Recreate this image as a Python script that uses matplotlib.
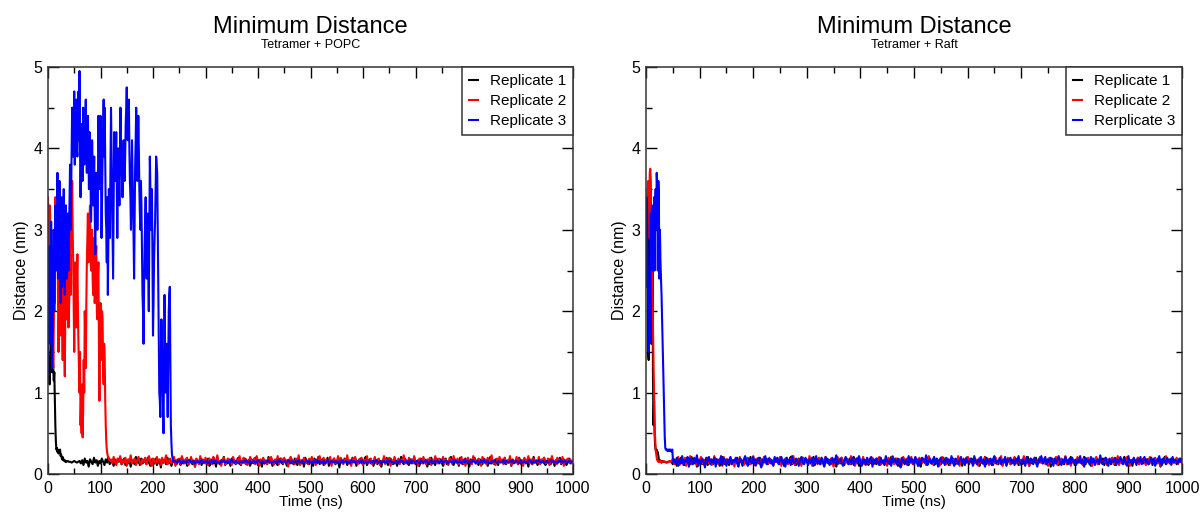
import numpy as np
import matplotlib
matplotlib.use("Agg")
import matplotlib.pyplot as plt
from matplotlib.ticker import MultipleLocator

plt.rcParams['font.family'] = ['Liberation Sans', 'DejaVu Sans']

# ---- data: minimum distance (nm) vs time (ns) ----
# "head" = start of each run at 1 ns steps (nm)
# "tail" = rest of the run up to 1000 ns, ~2.5 ns apart, in hundredths of nm

# Tetramer + POPC
popc_r1_head = [1.55, 1.2, 1.45, 1.1, 1.3, 1.6, 1.9, 1.5, 1.25, 1.4, 1.3, 1.15, 1.25, 0.9, 0.6, 0.4,
                0.3, 0.32, 0.27, 0.3, 0.25, 0.28, 0.26, 0.3, 0.22, 0.24, 0.2, 0.18, 0.21, 0.17,
                0.18, 0.16, 0.17, 0.15, 0.16]
popc_r1_tail = [15, 16, 15, 15, 14, 15, 16, 15, 14, 15, 16,
                13, 17, 11, 19, 14, 16, 9, 18, 15, 12, 20, 14, 17, 10, 16, 13, 19, 15, 11, 18, 14, 21, 12, 16, 15,
                10, 18, 13, 17, 15, 20, 12, 14, 19, 11, 16, 13, 18, 9, 17, 15, 12, 21, 14, 16, 11, 19, 13, 15, 17,
                12, 20, 14, 10, 18, 16, 13, 19, 11, 15, 17, 8, 18, 14, 16, 12, 20, 13, 17, 10, 15, 19, 14, 12, 18,
                16, 11, 21, 13, 15, 18, 10, 17, 14, 19, 12, 16, 9, 18, 15, 13, 20, 11, 17, 14, 16, 12, 19, 10, 15,
                18, 13, 16, 9, 20, 14, 12, 17, 15, 21, 11, 16, 13, 18, 10, 19, 14, 15, 12, 17, 20, 13, 11, 16, 14,
                19, 12, 15, 17, 10, 18, 14, 13, 20, 16, 11, 17, 15, 9, 19, 13, 16, 12, 21, 14, 18, 10, 15, 17, 13,
                11, 16, 19, 14, 12, 18, 15, 10, 17, 13, 20, 16, 12, 19, 14, 11, 18, 15, 13, 17, 9, 20, 14, 16, 12,
                17, 14, 10, 19, 15, 13, 21, 12, 16, 18, 11, 15, 14, 20, 10, 17, 13, 16, 19, 12, 15, 18, 8, 17, 14,
                13, 19, 16, 11, 17, 14, 12, 20, 15, 18, 10, 16, 13, 19, 14, 12, 17, 21, 11, 15, 18, 13, 16, 10, 19,
                15, 12, 18, 14, 9, 17, 16, 13, 20, 11, 15, 19, 14, 12, 18, 16, 10, 17, 13, 21, 15, 12, 19, 14, 16,
                11, 18, 13, 16, 20, 12, 15, 17, 10, 19, 14, 13, 18, 16, 9, 17, 12, 20, 15, 14, 11, 19, 16, 13, 18,
                14, 10, 17, 19, 12, 16, 15, 21, 13, 11, 18, 14, 17, 10, 20, 15, 12, 16, 19, 13, 15, 9, 18, 14, 17,
                20, 13, 15, 11, 18, 16, 12, 19, 14, 17, 10, 15, 21, 13, 16, 12, 18, 14, 11, 19, 15, 17, 13, 20, 12,
                16, 14, 19, 10, 17, 13, 15, 18, 12, 20, 14, 11, 16, 19, 13, 17, 9, 18, 15, 12, 21, 14, 16, 11, 18,
                13, 17, 15, 20, 11, 16, 14, 18, 12, 19, 15, 10, 17, 13, 16, 20, 12, 15, 18, 14, 11, 17, 19, 13, 16,
                15]
popc_r2_head = [3.4, 2.9, 2.7, 3.3, 3.2, 2.4, 2.0, 2.6, 1.6, 1.9, 1.3, 1.8, 2.5, 2.1, 3.4, 2.6,
                2.9, 3.4, 3.3, 2.2, 1.5, 2.0, 2.4, 1.7, 2.0, 2.9, 2.5, 1.8, 1.4, 2.2, 2.3, 1.6,
                1.2, 2.0, 2.6, 2.1, 1.9, 2.5, 2.4, 1.8, 2.0, 2.3, 2.7, 2.2, 3.3, 2.8, 3.6, 3.0,
                2.6, 2.1, 1.5, 2.2, 2.6, 1.9, 1.8, 2.4, 2.7, 2.0, 1.6, 1.3, 1.0, 1.5, 0.6, 0.9,
                0.5, 1.1, 0.45, 0.8, 1.4, 1.0, 2.0, 1.7, 1.3, 2.1, 2.6, 2.9, 3.2, 2.6, 2.8, 3.1,
                3.3, 2.7, 2.5, 2.9, 3.0, 2.4, 2.2, 2.7, 2.9, 2.1, 2.3, 2.7, 2.8, 2.0, 1.9, 2.4,
                2.6, 1.6, 0.9, 1.8, 2.1, 1.4, 1.5, 2.0, 1.9, 1.3, 1.1, 1.6, 1.4, 0.9, 0.6, 0.4,
                0.3, 0.25, 0.22, 0.2, 0.19, 0.17, 0.17, 0.16]
popc_r2_tail = [18, 13, 21, 15, 11, 19, 16, 22, 12, 17, 14, 20, 10, 18, 15, 23, 13, 16, 19, 11, 17, 21, 14, 12, 18,
                15, 20, 12, 17, 22, 14, 10, 19, 16, 13, 21, 15, 18, 11, 20, 14, 17, 23, 12, 16, 19, 13, 15, 21, 10,
                17, 14, 19, 12, 22, 16, 13, 18, 20, 11, 15, 21, 14, 17, 9, 19, 16, 12, 22, 15, 18, 13, 20, 14, 11,
                19, 15, 12, 21, 17, 14, 23, 13, 16, 10, 18, 20, 12, 15, 19, 14, 17, 11, 21, 16, 13, 18, 15, 22, 12,
                16, 20, 13, 18, 11, 15, 21, 17, 14, 19, 12, 22, 16, 10, 18, 15, 20, 13, 17, 12, 19, 14, 21, 16, 11,
                18, 14, 22, 12, 16, 19, 13, 20, 15, 17, 9, 18, 21, 14, 16, 12, 19, 15, 23, 11, 17, 14, 20, 13, 16,
                12, 19, 15, 21, 14, 17, 11, 18, 16, 22, 13, 15, 20, 12, 18, 14, 16, 21, 10, 17, 19, 13, 15, 22, 14,
                20, 16, 12, 18, 15, 23, 13, 17, 10, 19, 14, 21, 16, 12, 18, 15, 20, 11, 17, 14, 22, 13, 16, 19, 12,
                15, 21, 13, 17, 19, 11, 16, 14, 22, 12, 18, 15, 20, 10, 17, 13, 21, 16, 14, 19, 12, 18, 15, 23, 13,
                17, 12, 20, 15, 18, 13, 22, 14, 16, 10, 19, 17, 13, 21, 15, 12, 18, 16, 20, 11, 17, 14, 22, 15, 13,
                19, 14, 16, 21, 12, 18, 15, 11, 20, 17, 13, 22, 16, 14, 19, 12, 15, 21, 13, 18, 10, 17, 20, 14, 16,
                12, 22, 15, 17, 13, 19, 16, 10, 21, 14, 18, 12, 20, 15, 17, 23, 13, 16, 11, 19, 14, 21, 15, 18, 12,
                20, 13, 17, 15, 22, 11, 18, 16, 14, 21, 12, 19, 15, 17, 10, 20, 14, 16, 22, 13, 18, 12, 19, 15, 17,
                14, 21, 12, 18, 16, 20, 13, 15, 19, 11, 17, 22, 14, 16, 12, 20, 15, 18, 13, 21, 10, 17, 16, 19, 14,
                18, 13, 16]
popc_r3_head = [1.2, 2.1, 2.8, 2.3, 1.6, 2.5, 3.1, 2.2, 1.3, 1.9, 2.4, 3.0, 2.0, 2.6, 3.3, 2.8,
                2.5, 3.2, 3.7, 2.4, 2.9, 3.1, 3.6, 2.7, 2.1, 2.9, 3.4, 2.3, 2.6, 3.0, 3.5, 2.8,
                2.2, 2.7, 3.3, 2.9, 2.4, 2.8, 3.2, 2.5, 2.9, 3.4, 3.8, 3.0, 3.4, 3.9, 4.5, 4.2,
                3.9, 4.3, 4.7, 3.8, 4.2, 4.4, 4.6, 4.0, 3.9, 4.3, 4.7, 4.1, 4.95, 4.0, 3.4, 3.9,
                4.3, 4.1, 3.6, 4.5, 4.4, 3.8, 4.0, 4.4, 4.6, 4.0, 3.7, 4.1, 4.4, 3.9, 3.5, 4.2,
                3.9, 3.6, 3.1, 3.5, 4.1, 3.8, 3.3, 3.6, 3.9, 3.2, 2.7, 3.3, 3.7, 3.6, 3.0, 3.4,
                4.4, 4.0, 3.5, 3.9, 4.4, 3.6, 2.9, 3.4, 3.9, 4.2, 4.6, 3.9, 4.5, 3.8, 3.2, 3.0,
                2.6, 3.4, 2.2, 2.9, 3.5, 3.1, 2.9, 3.8, 4.5, 4.0, 3.5, 3.0, 2.4, 3.3, 4.2, 3.8,
                3.6, 3.9, 4.2, 3.5, 2.9, 3.6, 4.0, 3.7, 3.3, 3.9, 4.5, 4.1, 3.8, 3.6, 3.4, 3.8,
                4.1, 3.9, 3.6, 3.9, 4.3, 4.5, 4.75, 4.3, 4.1, 4.4, 4.6, 4.0, 3.6, 3.4, 3.0, 3.6,
                4.1, 3.7, 3.3, 2.9, 2.4, 3.1, 3.8, 4.1, 4.5, 4.0, 3.6, 3.9, 4.4, 4.0, 3.5, 3.2,
                3.0, 3.6, 3.3, 2.8, 2.2, 2.0, 1.6, 2.3, 2.8, 3.1, 3.4, 2.9, 2.4, 2.8, 3.2, 2.5,
                2.0, 2.9, 3.9, 3.5, 3.0, 3.2, 3.5, 2.6, 1.7, 2.1, 2.6, 2.9, 3.1, 3.5, 3.9, 3.8,
                3.7, 3.0, 2.2, 1.5, 1.0, 0.9, 0.7, 1.3, 1.9, 1.6, 1.2, 0.8, 0.5, 1.4, 2.2, 1.5,
                1.0, 1.3, 1.6, 1.1, 0.7, 1.4, 2.0, 2.2, 2.3, 1.4, 0.6, 0.4, 0.25, 0.2, 0.16, 0.15]
popc_r3_tail = [15, 16, 14, 15, 17, 15, 13, 16, 15, 14, 16, 15, 17, 14, 15, 16, 13, 15, 16, 14, 15, 17, 15, 14, 16,
                15, 13, 16, 15, 14, 17, 15, 16, 14, 15, 13, 16, 15, 17, 14, 15, 16, 14, 15, 18, 15, 14, 16, 15, 13,
                16, 15, 14, 16, 15, 17, 14, 15, 16, 13, 15, 16, 14, 15, 17, 15, 14, 16, 15, 13, 16, 15, 17, 14, 15,
                14, 16, 15, 13, 17, 15, 16, 14, 15, 16, 15, 14, 17, 15, 13, 16, 15, 14, 16, 15, 17, 14, 15, 16, 14,
                15, 17, 14, 16, 15, 13, 16, 15, 14, 17, 15, 16, 14, 15, 16, 13, 15, 17, 15, 14, 16, 15, 14, 16, 15,
                13, 16, 15, 17, 14, 15, 16, 14, 15, 13, 17, 15, 16, 14, 15, 16, 15, 14, 17, 15, 13, 16, 15, 14, 16,
                15, 14, 16, 15, 17, 15, 14, 16, 13, 15, 16, 14, 15, 17, 15, 16, 14, 15, 13, 16, 15, 14, 17, 15, 16,
                14, 15, 16, 13, 15, 17, 14, 16, 15, 14, 16, 15, 13, 17, 15, 14, 16, 15, 16, 14, 15, 17, 13, 15, 16,
                15, 16, 14, 15, 17, 14, 15, 16, 15, 13, 16, 15, 14, 17, 15, 16, 14, 15, 16, 13, 15, 17, 14, 16, 15,
                16, 14, 15, 17, 15, 13, 16, 15, 14, 16, 15, 17, 14, 15, 16, 14, 13, 16, 15, 17, 15, 14, 16, 15, 14,
                15, 17, 13, 16, 15, 14, 16, 15, 17, 14, 15, 16, 15, 13, 17, 15, 14, 16, 15, 14, 16, 17, 15, 13, 16,
                14, 16, 15, 17, 15, 14, 16, 13, 15, 16, 14, 15, 17, 15, 16, 14, 15, 13, 16, 15, 17, 14, 15, 16, 15,
                14, 16, 15, 15, 14]

# Tetramer + Raft
raft_r1_head = [3.4, 3.2, 2.5, 3.3, 1.5, 1.4, 2.2, 3.0, 3.4, 3.5, 2.1, 1.6, 2.8, 1.2, 0.6, 0.9,
                0.5, 0.35, 0.3, 0.28, 0.3, 0.25, 0.27, 0.22, 0.18, 0.16, 0.17, 0.15, 0.16, 0.14]
raft_r1_tail = [16, 15, 15, 14, 15, 15, 16, 15,
                12, 18, 14, 10, 17, 15, 20, 13, 16, 11, 19, 14, 17, 12, 21, 15, 13, 18, 9, 16, 14, 19, 12, 17, 15,
                20, 11, 16, 14, 18, 12, 15, 19, 13, 17, 10, 16, 21, 14, 12, 18, 15, 11, 19, 16, 13, 17, 14, 20, 12,
                15, 18, 10, 17, 13, 19, 16, 12, 21, 14, 15, 11, 18, 16, 13, 20, 9, 17, 14, 15, 19, 12, 16, 18, 13,
                11, 17, 15, 20, 14, 12, 18, 16, 10, 19, 13, 15, 17, 21, 12, 14, 18, 11, 16, 19, 15, 13, 20, 14, 17,
                16, 12, 19, 13, 15, 21, 11, 17, 14, 18, 12, 20, 15, 10, 16, 19, 13, 17, 15, 12, 18, 14, 9, 19, 16,
                13, 20, 15, 11, 18, 16, 14, 19, 12, 17, 21, 13, 15, 18, 10, 16, 14, 20, 12, 17, 15, 11, 19, 13, 18,
                17, 14, 12, 19, 15, 20, 13, 16, 11, 18, 14, 17, 12, 21, 15, 13, 19, 16, 10, 18, 14, 16, 20, 12, 15,
                19, 11, 17, 14, 16, 12, 20, 15, 18, 13, 9, 19, 16, 14, 17, 12, 21, 15, 13, 18, 11, 16, 19, 14, 17,
                12, 16, 20, 13, 18, 15, 11, 17, 14, 19, 16, 12, 15, 20, 13, 17, 10, 18, 15, 14, 21, 12, 16, 19, 13,
                18, 15, 13, 17, 10, 19, 14, 16, 21, 12, 15, 18, 13, 17, 11, 20, 14, 16, 12, 19, 15, 13, 18, 16, 11,
                15, 19, 12, 16, 14, 20, 13, 18, 11, 17, 15, 12, 19, 16, 14, 21, 10, 17, 13, 18, 15, 20, 12, 16, 14,
                20, 13, 17, 15, 12, 18, 16, 9, 19, 14, 17, 13, 20, 11, 16, 18, 14, 12, 19, 15, 17, 13, 21, 14, 16,
                11, 18, 14, 19, 16, 13, 17, 21, 12, 15, 18, 14, 10, 19, 16, 13, 20, 15, 12, 17, 14, 19, 11, 16, 18,
                14, 17, 12, 20, 15, 11, 18, 16, 13, 19, 14, 17, 21, 12, 15, 18, 13, 16, 10, 19, 15, 14, 20, 12, 17,
                16, 13, 19, 15, 18, 12, 14, 20, 11, 17, 16, 13, 19, 15, 9, 18, 14, 21, 12, 16, 17, 13, 19, 15, 14,
                18, 12, 16, 15, 19, 14]
raft_r2_head = [2.7, 3.0, 3.3, 3.5, 3.6, 3.4, 2.9, 3.7, 3.75, 3.6, 2.6, 3.0, 2.2, 1.8, 1.4, 1.0,
                0.6, 0.45, 0.3, 0.25, 0.2, 0.17, 0.16, 0.15, 0.16, 0.15, 0.15, 0.16, 0.15, 0.14]
raft_r2_tail = [15, 16, 15, 15, 14, 15, 16, 15,
                19, 12, 17, 14, 21, 11, 16, 18, 13, 20, 10, 17, 15, 22, 12, 16, 19, 14, 11, 18, 15, 21, 13, 17, 10,
                16, 20, 13, 18, 11, 15, 22, 14, 17, 12, 19, 16, 10, 21, 14, 18, 13, 15, 20, 12, 17, 9, 19, 15, 13,
                21, 14, 16, 11, 18, 13, 20, 15, 12, 17, 22, 14, 10, 19, 16, 13, 18, 11, 21, 15, 17, 12, 20, 14, 16,
                11, 19, 15, 17, 13, 21, 10, 18, 14, 16, 20, 12, 15, 19, 13, 22, 11, 17, 14, 18, 16, 10, 20, 13, 15,
                18, 13, 22, 15, 10, 17, 14, 19, 12, 20, 16, 13, 18, 11, 21, 15, 17, 12, 19, 14, 9, 18, 16, 21, 13,
                15, 20, 11, 17, 14, 19, 16, 12, 22, 13, 18, 10, 16, 20, 14, 17, 12, 21, 15, 11, 19, 13, 17, 15, 20,
                12, 17, 19, 14, 21, 11, 16, 13, 18, 15, 10, 20, 14, 17, 22, 12, 16, 19, 13, 15, 18, 11, 21, 14, 16,
                19, 13, 15, 21, 12, 18, 14, 17, 10, 20, 16, 13, 19, 15, 11, 18, 22, 14, 16, 12, 20, 15, 17, 13, 10,
                17, 21, 14, 16, 12, 19, 15, 11, 20, 13, 18, 16, 14, 22, 10, 17, 15, 19, 12, 16, 21, 13, 18, 14, 15,
                13, 18, 16, 10, 20, 14, 17, 12, 21, 15, 19, 11, 16, 18, 13, 15, 20, 12, 17, 14, 22, 10, 16, 19, 13,
                20, 15, 12, 18, 14, 21, 13, 16, 19, 11, 17, 15, 22, 12, 18, 14, 10, 19, 16, 13, 20, 15, 12, 17, 21,
                14, 16, 19, 12, 17, 10, 20, 15, 13, 18, 16, 21, 11, 17, 14, 19, 13, 16, 22, 12, 15, 18, 10, 20, 14,
                16, 12, 21, 14, 18, 15, 11, 19, 13, 17, 20, 14, 16, 10, 18, 15, 21, 12, 17, 19, 13, 16, 14, 20, 11,
                18, 14, 16, 20, 12, 17, 15, 22, 11, 19, 13, 16, 18, 12, 21, 14, 10, 17, 15, 19, 16, 13, 20, 12, 17,
                13, 19, 15, 11, 18, 16, 21, 14, 17, 12, 20, 15, 13, 19, 10, 16, 18, 14, 22, 13, 17, 15, 11, 19, 16,
                14, 20, 12, 17, 15, 18]
raft_r3_head = [2.3, 3.4, 3.3, 2.7, 2.0, 1.5, 2.1, 1.6, 2.5, 3.2, 2.8, 3.3, 2.5, 3.1, 2.6, 3.4,
                2.5, 3.2, 3.5, 3.0, 3.7, 3.5, 2.5, 3.6, 3.4, 2.4, 3.0, 2.6, 2.4, 2.2, 1.9, 1.6,
                1.3, 1.0, 0.7, 0.45, 0.32, 0.3, 0.3, 0.29, 0.3, 0.28, 0.3, 0.29, 0.3, 0.28,
                0.3, 0.29, 0.27, 0.3, 0.2, 0.15, 0.14, 0.16, 0.15]
raft_r3_tail = [14, 20, 10, 18, 13, 22, 11, 17, 15, 21, 9, 19, 16, 12, 20, 14, 23, 10, 17, 13, 19, 15, 8, 18, 16,
                21, 12, 17, 14, 20, 9, 18, 15, 13, 22, 11, 19, 16, 10, 18, 14, 21, 12, 17, 15, 20, 13, 9, 19, 16,
                12, 18, 22, 14, 10, 19, 16, 13, 21, 15, 11, 17, 20, 14, 8, 18, 15, 22, 12, 16, 19, 13, 17, 10, 21,
                15, 19, 12, 17, 21, 13, 16, 9, 20, 14, 18, 11, 22, 15, 13, 19, 16, 10, 17, 21, 14, 12, 20, 16, 11,
                18, 14, 20, 10, 16, 22, 13, 17, 12, 19, 15, 9, 21, 14, 18, 11, 16, 20, 13, 17, 23, 12, 15, 19, 14,
                10, 17, 21, 15, 12, 18, 14, 20, 11, 16, 19, 13, 22, 15, 10, 18, 17, 12, 20, 14, 16, 21, 9, 18, 13,
                19, 15, 11, 20, 14, 17, 12, 22, 16, 13, 18, 10, 21, 15, 17, 12, 19, 14, 8, 20, 16, 13, 18, 11, 22,
                14, 19, 16, 12, 21, 15, 10, 18, 13, 20, 17, 14, 23, 11, 16, 19, 13, 15, 21, 12, 18, 9, 17, 20, 14,
                16, 11, 20, 14, 18, 13, 22, 15, 10, 19, 16, 12, 17, 21, 14, 18, 11, 20, 15, 13, 19, 16, 10, 22, 15,
                12, 18, 15, 21, 13, 17, 9, 20, 16, 14, 19, 11, 18, 22, 13, 16, 15, 20, 12, 17, 14, 21, 10, 18, 16,
                20, 13, 17, 11, 19, 15, 22, 14, 12, 18, 16, 10, 21, 15, 13, 19, 17, 12, 20, 14, 9, 18, 16, 22, 13,
                15, 21, 12, 18, 14, 20, 16, 10, 19, 13, 17, 22, 15, 11, 18, 14, 21, 16, 12, 19, 13, 20, 15, 17, 11,
                18, 14, 22, 13, 16, 9, 20, 15, 17, 12, 21, 14, 19, 11, 16, 18, 13, 23, 15, 12, 17, 20, 14, 10, 19,
                13, 17, 15, 20, 11, 18, 14, 21, 16, 12, 19, 15, 10, 22, 14, 17, 13, 20, 16, 11, 18, 15, 21, 12, 17,
                21, 14, 18, 12, 16, 20, 13, 19, 10, 17, 15, 22, 14, 11, 19, 16, 13, 20, 15, 18, 12, 21, 14, 17, 16,
                13, 19, 15, 17]

colors = ['black', 'red', 'blue']
popc_labels = ['Replicate 1', 'Replicate 2', 'Replicate 3']
raft_labels = ['Replicate 1', 'Replicate 2', 'Rerplicate 3']


def build(head, tail):
    # head sampled every 1 ns, tail spread evenly from the end of the head to 1000 ns
    t_head = np.arange(len(head), dtype=float)
    t_tail = np.linspace(len(head), 1000, len(tail))
    t = np.concatenate([t_head, t_tail])
    d = np.concatenate([np.array(head), np.array(tail) / 100.0])
    return t, d


popc = [build(popc_r1_head, popc_r1_tail),
        build(popc_r2_head, popc_r2_tail),
        build(popc_r3_head, popc_r3_tail)]
raft = [build(raft_r1_head, raft_r1_tail),
        build(raft_r2_head, raft_r2_tail),
        build(raft_r3_head, raft_r3_tail)]

fig = plt.figure(figsize=(12.02, 5.12), dpi=100)
ax1 = fig.add_axes([48 / 1202, 38 / 512, 525 / 1202, 407 / 512])
ax2 = fig.add_axes([646 / 1202, 38 / 512, 536 / 1202, 407 / 512])


def draw(ax, series, labels, subtitle):
    for (t, d), c, lab in zip(series, colors, labels):
        ax.plot(t, d, color=c, lw=1.5, label=lab)
    ax.set_xlim(0, 1000)
    ax.set_ylim(0, 5)
    ax.xaxis.set_major_locator(MultipleLocator(100))
    ax.xaxis.set_minor_locator(MultipleLocator(50))
    ax.yaxis.set_major_locator(MultipleLocator(1))
    ax.yaxis.set_minor_locator(MultipleLocator(0.5))
    ax.tick_params(which='both', direction='in', top=True, right=True, width=1, labelsize=11.5)
    ax.tick_params(which='major', length=8)
    ax.tick_params(which='minor', length=4)
    ax.tick_params(axis='x', pad=5)
    ax.tick_params(axis='y', pad=4)
    for s in ax.spines.values():
        s.set_linewidth(1.1)
        s.set_color('#333333')
    ax.set_xlabel('Time (ns)', fontsize=11, labelpad=-1)
    ax.set_ylabel('Distance (nm)', fontsize=11.5, labelpad=3)
    ax.text(0.5, 1.0835, 'Minimum Distance', transform=ax.transAxes, ha='center',
            va='baseline', fontsize=17)
    ax.text(0.5, 1.0467, subtitle, transform=ax.transAxes, ha='center',
            va='baseline', fontsize=9)
    leg = ax.legend(loc='upper right', borderaxespad=0, fontsize=11, handlelength=0.55,
                    handletextpad=0.8, labelspacing=0.4, borderpad=0.45, fancybox=False,
                    framealpha=1)
    leg.get_frame().set_edgecolor('#333333')
    leg.get_frame().set_linewidth(1.1)


draw(ax1, popc, popc_labels, 'Tetramer + POPC')
draw(ax2, raft, raft_labels, 'Tetramer + Raft')

fig.savefig('out.png', dpi=100)
